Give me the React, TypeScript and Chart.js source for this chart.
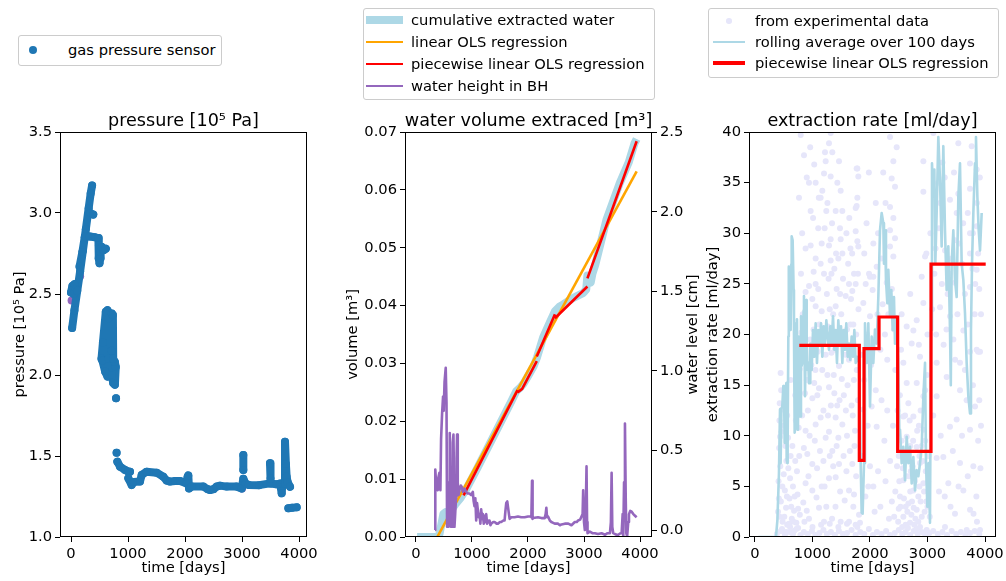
import React, { useEffect, useRef } from "react";
import { Chart, registerables } from "chart.js";
Chart.register(...registerables);

const FONT = "'DejaVu Sans', 'Liberation Sans', sans-serif";
const FS = 14.7;
const TFS = 17.6;

// ---------- tick labels ----------
const X_TICKS = ["0", "1000", "2000", "3000", "4000"];
const P1_YTICKS = ["1.0", "1.5", "2.0", "2.5", "3.0", "3.5"];
const P2_YTICKS = ["0.00", "0.01", "0.02", "0.03", "0.04", "0.05", "0.06", "0.07"];
const P2_Y2TICKS = ["0.0", "0.5", "1.0", "1.5", "2.0", "2.5"];
const P3_YTICKS = ["0", "5", "10", "15", "20", "25", "30", "35", "40"];

// ---------- titles / labels ----------
const TITLES = ["pressure [10\u2075 Pa]", "water volume extraced [m\u00b3]", "extraction rate [ml/day]"];
const YLABELS = ["pressure [10\u2075 Pa]", "volume [m\u00b3]", "extraction rate [ml/day]"];
const Y2LABEL = "water level [cm]";
const XLABEL = "time [days]";
const LEGEND1 = ["gas pressure sensor"];
const LEGEND2 = ["cumulative extracted water", "linear OLS regression", "piecewise linear OLS regression", "water height in BH"];
const LEGEND3 = ["from experimental data", "rolling average over 100 days", "piecewise linear OLS regression"];

// ---------- panel 1: gas pressure sensor [t, p] (null = gap) ----------
const pressurePts: ([number, number] | null)[] = [
  [0, 2.51], [25, 2.55], [60, 2.56], [85, 2.53], [45, 2.5], null,
  [20, 2.29], [60, 2.4], [110, 2.52], [160, 2.64], [210, 2.77], [260, 2.9], [310, 3.03], [345, 3.12], [370, 3.17], null,
  [150, 2.67], [200, 2.76], [240, 2.85], [275, 2.86], null,
  [335, 3.0], [390, 2.99], null,
  [250, 2.855], [330, 2.855], [420, 2.85], [480, 2.845], [490, 2.8], [485, 2.72], [500, 2.69], [515, 2.72], [520, 2.76], null,
  [540, 2.79], [570, 2.77], [610, 2.78], null,
  [640, 2.4], [610, 2.39], [560, 2.2], [535, 2.1], [550, 2.09], [600, 2.02], [640, 1.99], [660, 2.1], [660, 2.35], null,
  [715, 2.38], [712, 2.15], [718, 2.0], [740, 1.95], [770, 1.94], [785, 2.05], [770, 2.08], [740, 2.1], [735, 2.37], null,
  [790, 1.857], null,
  [800, 1.52], null,
  [813, 1.465], [860, 1.434], [947, 1.414], [1000, 1.405], [1035, 1.403], null,
  [1006, 1.362], [1064, 1.321], [1100, 1.34], [1210, 1.342], [1240, 1.383], [1327, 1.403], [1503, 1.397], [1620, 1.372],
  [1678, 1.348], [1737, 1.342], [1825, 1.346], [1912, 1.346], [2029, 1.331], [2045, 1.37], [2058, 1.38], [2070, 1.3],
  [2117, 1.311], [2322, 1.311], [2400, 1.295], [2439, 1.29], [2500, 1.295], [2556, 1.311], [2614, 1.317], [2731, 1.311],
  [2906, 1.311], [2994, 1.3], [3023, 1.36], [3060, 1.33], [3120, 1.321], [3300, 1.32], [3491, 1.331], [3520, 1.33],
  [3600, 1.325], [3667, 1.33], [3696, 1.27], [3710, 1.33], [3754, 1.33], [3754, 1.588], [3770, 1.45], [3783, 1.372],
  [3800, 1.34], [3842, 1.31], null,
  [3023, 1.506], [3023, 1.414], null,
  [3491, 1.455], [3500, 1.36], null,
  [3813, 1.177], [3880, 1.18], [3959, 1.183],
];
const otherPts: [number, number][] = [[10, 2.46], [160, 2.61], [3000, 1.3]];

// ---------- panel 2 ----------
const cumPts: [number, number][] = [
  [20, 0], [390, 0], [420, 0.0005], [460, 0.0025], [490, 0.004], [530, 0.0043], [590, 0.004], [640, 0.0048],
  [700, 0.0056], [800, 0.0068], [900, 0.0083], [1100, 0.012], [1300, 0.0158], [1500, 0.0196], [1700, 0.0234],
  [1790, 0.0252], [1860, 0.0258], [1920, 0.0265], [2000, 0.0278], [2100, 0.0295], [2160, 0.031], [2270, 0.0345],
  [2400, 0.0373], [2480, 0.039], [2560, 0.0398], [2630, 0.0402], [2800, 0.0413], [2990, 0.0422], [3040, 0.0428],
  [3060, 0.0452], [3090, 0.0445], [3120, 0.044], [3150, 0.0455], [3200, 0.047], [3400, 0.0548], [3640, 0.0612],
  [3800, 0.0648], [3900, 0.068], [3940, 0.0688],
];
const olsPts: [number, number][] = [[380, 0], [3940, 0.0632]];
const pwPts: ([number, number] | null)[] = [
  [850, 0.0072], [1814, 0.0254], null,
  [1814, 0.025], [1896, 0.0256], [2157, 0.0304], null,
  [2157, 0.0312], [2481, 0.0385], null,
  [2481, 0.0378], [3061, 0.0433], null,
  [3061, 0.0447], [3940, 0.0684],
];
const bhPts: [number, number][] = [
  [340, 0.0], [345, 0.38], [358, 0.3], [370, 0.26], [388, 0.25], [400, 0.33], [418, 0.36], [436, 0.25], [448, 0.57],
  [466, 0.73], [484, 0.84], [495, 0.75], [510, 0.93], [531, 1.02], [545, 0.8], [555, 0.02], [579, 0.02], [592, 0.3],
  [603, 0.61], [612, 0.35], [621, 0.02], [645, 0.02], [657, 0.55], [669, 0.6], [680, 0.3], [687, 0.02], [700, 0.1],
  [716, 0.21], [725, 0.45], [734, 0.6], [746, 0.3], [760, 0.22], [776, 0.25], [800, 0.28], [818, 0.27], [840, 0.24],
  [866, 0.26], [895, 0.24], [925, 0.23], [955, 0.23], [985, 0.22], [1015, 0.24], [1030, 0.18], [1045, 0.15],
  [1060, 0.2], [1075, 0.06], [1090, 0.17], [1104, 0.17], [1120, 0.08], [1134, 0.1], [1150, 0.04], [1164, 0.13],
  [1180, 0.07], [1194, 0.1], [1210, 0.04], [1224, 0.05], [1240, 0.09], [1254, 0.1], [1270, 0.04], [1284, 0.04],
  [1300, 0.06], [1313, 0.06], [1330, 0.03], [1343, 0.04], [1380, 0.05], [1403, 0.05], [1440, 0.04], [1463, 0.04],
  [1500, 0.05], [1522, 0.05], [1560, 0.06], [1582, 0.06], [1597, 0.12], [1612, 0.17], [1630, 0.18], [1642, 0.18],
  [1660, 0.1], [1672, 0.07], [1701, 0.08], [1760, 0.08], [1821, 0.085], [1880, 0.08], [1940, 0.08], [2000, 0.085],
  [2048, 0.085], [2060, 0.08], [2072, 0.31], [2082, 0.07], [2090, 0.075], [2179, 0.08], [2240, 0.075], [2298, 0.075],
  [2315, 0.1], [2328, 0.14], [2340, 0.08], [2358, 0.085], [2390, 0.06], [2418, 0.05], [2450, 0.045], [2478, 0.04],
  [2537, 0.04], [2570, 0.03], [2597, 0.035], [2657, 0.04], [2720, 0.04], [2776, 0.03], [2836, 0.05], [2870, 0.05],
  [2895, 0.06], [2930, 0.065], [2955, 0.085], [2975, 0.1], [2985, 0.25], [3000, 0.05], [3015, 0.0], [3030, 0.1],
  [3045, 0.4], [3055, 0.05], [3063, -0.02], [3104, -0.01], [3150, -0.02], [3194, -0.02], [3250, -0.025],
  [3313, -0.02], [3373, -0.03], [3420, -0.02], [3463, -0.02], [3480, 0.05], [3493, 0.36], [3505, 0.02],
  [3522, -0.02], [3580, -0.03], [3612, -0.03], [3650, -0.02], [3672, -0.02], [3690, 0.1], [3701, -0.04],
  [3715, 0.3], [3731, 0.67], [3745, 0.2], [3755, -0.02], [3770, -0.04], [3779, -0.04], [3790, 0.05], [3803, 0.1],
  [3825, 0.12], [3851, 0.115], [3880, 0.1], [3910, 0.09], [3940, 0.08],
];

// ---------- panel 3 ----------
const expPts: [number, number][] = [
  [380, 0.3], [450, 0.6], [520, 0.2], [600, 0.5], [660, 0.3], [720, 0.8], [790, 0.2], [850, 0.5], [920, 0.3], [990, 0.6],
  [1050, 0.2], [1120, 0.4], [1190, 0.7], [1250, 0.3], [1320, 0.5], [1390, 0.2], [1460, 0.6], [1530, 0.3], [1600, 0.4],
  [1680, 0.7], [1750, 0.2], [1830, 0.5], [1900, 0.3], [1980, 0.8], [2050, 0.2], [2120, 0.5], [2200, 0.3], [2280, 0.6],
  [2350, 0.2], [2430, 0.4], [2500, 0.7], [2560, 0.3], [2620, 0.5], [2700, 0.2], [2760, 0.6], [2830, 0.3], [2900, 0.5],
  [2960, 0.2], [3030, 0.4], [3100, 0.6], [3180, 0.3], [3260, 0.5], [3340, 0.2], [3420, 0.6], [3500, 0.3], [3580, 0.5],
  [3660, 0.2], [3740, 0.4], [3820, 0.6], [3900, 0.3],
  [400, 2.5], [410, 5.5], [420, 8.8], [425, 11.5], [430, 13.2], [440, 7.0], [450, 3.5], [460, 10.4], [470, 12.6],
  [480, 1.5], [500, 6.2], [520, 4.6], [530, 9.0], [540, 2.9], [560, 1.2], [580, 6.8], [600, 3.8], [620, 8.0], [640, 1.8],
  [660, 5.0], [680, 2.6], [700, 7.5], [720, 1.4], [740, 4.2], [760, 10.8], [780, 2.2], [446, 16.2], [500, 13.2], [560, 12.0],
  [415, 3.8], [435, 9.9], [455, 14.5], [475, 5.0], [490, 11.0], [510, 2.0], [525, 13.8], [545, 7.5], [555, 4.0],
  [575, 9.8], [590, 1.3], [610, 5.8], [630, 3.0], [650, 9.0], [670, 1.5], [690, 4.0], [710, 11.5], [730, 6.5],
  [750, 2.8], [770, 8.0], [700, 14.0], [620, 15.5], [430, 2.0], [470, 0.8], [540, 0.5], [610, 1.0], [680, 0.6], [750, 0.9],
  [795, 39.7], [852, 37.7], [765, 33.5], [800, 26.0], [830, 22.0], [860, 18.8], [880, 24.2], [900, 15.5], [820, 12.0],
  [850, 8.8], [880, 5.3], [900, 2.6], [840, 3.4], [870, 14.2], [910, 8.2], [780, 16.6], [810, 20.2],
  [939, 35.0], [968, 32.2], [968, 28.8], [997, 23.5], [1055, 35.0], [1055, 27.5], [1055, 25.0], [1055, 22.8], [1055, 11.1],
  [997, 13.7], [997, 7.2], [997, 4.6], [939, 1.8], [960, 19.5], [980, 17.0], [1020, 20.5], [1030, 15.2], [1040, 9.5],
  [1080, 6.8], [1090, 18.3], [1100, 30.5], [1084, 14.0], [1110, 33.5], [1113, 14.7], [1113, 2.9], [1020, 26.2],
  [940, 24.8], [950, 10.0], [930, 6.0], [1070, 3.9],
  [820, 30.0], [880, 28.5], [900, 35.5], [960, 38.5], [1010, 31.5], [1030, 36.8], [1100, 24.5], [1120, 21.0],
  [1160, 29.0], [1190, 12.5], [1230, 18.0], [1260, 33.0], [1280, 25.5], [1300, 8.0], [1340, 31.0], [1360, 22.0],
  [1370, 16.0], [1410, 28.0], [1430, 13.0], [1450, 9.8], [1480, 24.0], [1500, 19.5], [1520, 28.0], [1545, 14.0],
  [1570, 18.0], [1580, 12.5], [1610, 15.0], [1640, 31.5], [1670, 23.5], [1690, 28.0], [1710, 21.0], [1730, 9.0],
  [1770, 16.5], [1790, 26.0], [860, 1.5], [1000, 1.0], [1150, 1.2], [1300, 1.3], [1450, 1.0], [1600, 1.3], [1750, 1.2],
  [880, 10.5], [920, 12.5], [1050, 16.5], [1130, 8.5], [1210, 5.0], [1270, 12.0], [1360, 7.0], [1480, 4.5],
  [1590, 6.5], [1710, 3.0],
  [1142, 33.5], [1142, 27.0], [1142, 11.8], [1171, 34.2], [1200, 35.9], [1200, 26.0], [1200, 1.5], [1211, 30.5],
  [1217, 38.0], [1229, 37.1], [1229, 9.8], [1240, 32.2], [1287, 38.9], [1287, 28.8], [1287, 14.8], [1287, 10.4],
  [1287, 5.8], [1316, 39.9], [1316, 35.6], [1316, 29.4], [1316, 27.3], [1345, 38.0], [1345, 8.5], [1160, 22.3],
  [1180, 19.8], [1250, 24.0], [1270, 20.8], [1300, 22.5], [1330, 18.2], [1170, 16.5], [1260, 16.0], [1320, 13.0],
  [1190, 7.5], [1240, 3.0], [1340, 1.8], [1160, 5.0], [1330, 26.0],
  [1403, 32.2], [1403, 22.8], [1403, 11.8], [1403, 5.9], [1432, 35.0], [1461, 37.1], [1461, 16.9], [1461, 7.2],
  [1478, 30.5], [1490, 34.2], [1490, 29.4], [1490, 1.5], [1519, 32.2], [1519, 11.1], [1380, 26.5], [1420, 24.5],
  [1440, 20.0], [1450, 27.5], [1500, 22.0], [1530, 25.5], [1550, 19.0], [1380, 14.2], [1420, 9.0], [1540, 8.0],
  [1560, 3.6], [1400, 3.0], [1470, 13.5], [1510, 15.6], [1390, 18.5],
  [1577, 23.8], [1635, 25.0], [1635, 17.5], [1635, 4.6], [1635, 1.5], [1693, 24.3], [1693, 7.2], [1722, 26.0],
  [1722, 4.2], [1751, 30.2], [1751, 25.0], [1751, 32.5], [1780, 36.4], [1780, 33.5], [1780, 29.2], [1780, 1.0],
  [1809, 2.2], [1600, 20.5], [1620, 27.0], [1660, 21.0], [1680, 13.0], [1700, 18.5], [1720, 15.5], [1740, 10.5],
  [1760, 20.0], [1600, 10.0], [1650, 8.5], [1700, 12.0], [1590, 30.0], [1660, 28.5], [1760, 6.0], [1790, 13.5], [1800, 22.5],
  [1768, 36.4], [1797, 35.6], [1768, 32.7], [1797, 28.7], [1884, 23.1], [1925, 25.0], [1983, 26.0], [2000, 25.7],
  [2046, 24.4], [2000, 21.8], [1884, 12.6], [2029, 12.9], [2116, 10.9], [1971, 5.0], [1826, 1.4], [2000, 7.0],
  [2058, 5.0], [2058, 29.0], [2058, 25.7], [2116, 26.7], [1850, 18.0], [1900, 15.5], [1950, 20.0], [1960, 11.0],
  [2020, 17.0], [2080, 19.5], [2100, 14.5], [2130, 22.0], [1860, 8.0], [1920, 4.0], [2080, 2.5], [2140, 6.5],
  [1900, 28.0], [1940, 31.0], [2100, 33.0], [1980, 36.0], [2140, 30.0],
  [2290, 25.1], [2348, 39.5], [2464, 38.5], [2406, 37.1], [2377, 35.4], [2435, 34.6], [2348, 32.6], [2406, 31.5],
  [2348, 30.3], [2435, 29.5], [2348, 28.7], [2406, 27.7], [2200, 27.5], [2220, 23.0], [2260, 20.0], [2300, 17.5],
  [2320, 22.0], [2380, 24.5], [2420, 20.5], [2440, 16.5], [2200, 13.5], [2250, 9.5], [2300, 12.5], [2350, 7.5],
  [2400, 11.0], [2440, 4.5], [2180, 3.0], [2270, 5.5], [2330, 1.8], [2380, 3.5], [2420, 2.0], [2230, 36.0],
  [2270, 33.0], [2180, 18.5],
  [2522, 4.0], [2580, 5.6], [2580, 2.0], [2580, 11.9], [2580, 17.2], [2638, 20.8], [2638, 15.2], [2638, 9.9],
  [2667, 13.2], [2667, 3.3], [2696, 1.4], [2725, 19.1], [2754, 20.4], [2754, 11.9], [2754, 4.6], [2812, 21.4],
  [2812, 15.2], [2812, 8.9], [2812, 2.7], [2870, 17.8], [2870, 7.3], [2870, 1.0], [2899, 25.7], [2928, 23.1],
  [2928, 13.9], [2928, 10.6], [2928, 5.3], [2928, 34.1], [2928, 37.1], [2957, 27.7], [2986, 0.7], [2500, 8.0],
  [2520, 14.0], [2540, 18.5], [2560, 1.0], [2600, 7.5], [2620, 3.0], [2680, 6.0], [2700, 9.0], [2720, 2.2],
  [2740, 7.0], [2780, 5.5], [2790, 1.8], [2840, 4.0], [2850, 11.0], [2880, 3.5], [2900, 9.0], [2950, 2.5],
  [2970, 6.5], [3000, 3.0], [3020, 8.0], [2990, 16.0], [2480, 12.5], [2500, 2.8], [2620, 1.2], [2660, 0.9],
  [2700, 4.5], [2760, 2.9], [2810, 0.8], [2860, 5.0], [2960, 14.5], [3000, 20.0], [2980, 28.0],
  [2470, 7.0], [2490, 1.5], [2510, 5.5], [2530, 3.0], [2550, 9.5], [2570, 6.8], [2590, 3.8], [2610, 12.0],
  [2630, 6.0], [2650, 2.5], [2670, 8.5], [2690, 11.5], [2710, 6.5], [2730, 3.5], [2750, 9.5], [2770, 1.2],
  [2800, 6.2], [2820, 10.5], [2840, 1.5], [2860, 8.0], [2880, 12.5], [2900, 2.0], [2920, 7.5], [2940, 4.5],
  [2960, 9.5], [2980, 3.5], [3010, 5.5], [3040, 2.0], [2550, 22.0], [2700, 24.0], [2850, 19.0],
  [3101, 39.9], [3159, 17.2], [3159, 13.9], [3159, 7.8], [3217, 22.7], [3275, 7.9], [3304, 28.3], [3304, 1.0],
  [3333, 15.8], [3362, 5.3], [3391, 33.3], [3391, 21.8], [3391, 10.9], [3478, 29.3], [3478, 25.1], [3478, 2.3],
  [3507, 32.0], [3507, 11.6], [3536, 38.9], [3536, 33.9], [3565, 17.2], [3565, 14.5], [3565, 7.3], [3623, 20.4],
  [3623, 4.6], [3681, 0.7], [3739, 36.9], [3739, 34.4], [3739, 30.0], [3739, 28.0], [3739, 24.7], [3739, 18.3],
  [3739, 10.6], [3739, 2.7], [3768, 38.6], [3797, 7.0], [3826, 12.9], [3855, 36.3], [3855, 30.7], [3855, 26.4],
  [3855, 18.5], [3913, 0.7], [3080, 22.5], [3120, 26.0], [3200, 30.5], [3250, 25.0], [3280, 19.0], [3350, 24.0],
  [3420, 27.5], [3450, 19.5], [3520, 22.0], [3600, 27.0], [3650, 24.0], [3700, 21.0], [3780, 26.5], [3820, 22.0],
  [3880, 28.0], [3900, 24.5], [3100, 12.0], [3230, 10.0], [3300, 4.0], [3440, 8.5], [3600, 10.0], [3680, 13.5],
  [3880, 18.3], [3900, 13.5], [3880, 9.5], [3920, 6.8], [3180, 35.0], [3260, 37.0], [3620, 31.0], [3860, 33.0],
  [3910, 35.5], [3913, 18.3], [3800, 2.3], [3850, 4.0],
  [3050, 30.0], [3140, 28.5], [3220, 33.0], [3300, 35.5], [3380, 26.0], [3460, 36.0], [3550, 29.0], [3700, 32.0],
  [3790, 30.0], [3830, 25.0], [3930, 22.0], [3150, 20.0], [3330, 20.5], [3480, 17.5], [3650, 16.5], [3790, 15.0],
  [3930, 11.0], [3200, 4.5], [3400, 3.0], [3540, 5.0], [3700, 6.0], [3860, 1.5],
];
const rollPts: [number, number][] = [
  [58, 0], [150, 0], [250, 0], [365, 0], [390, 1.7], [417, 6.3], [435, 12.6], [446, 7.3], [460, 12.7], [475, 12.9],
  [493, 14.9], [504, 14.85], [516, 9.3], [522, 10.6], [533, 14.5], [545, 15.2], [551, 7.6], [562, 7.3], [568, 9.3],
  [580, 19.8], [585, 26.7], [591, 26.7], [603, 20.5], [620, 20.45], [630, 26.9], [638, 29.7], [655, 29.3], [661, 29.3],
  [672, 24.4], [678, 20.45], [690, 10.3], [696, 10.6], [713, 10.6], [719, 21.1], [730, 21.5], [742, 10.6], [748, 11.3],
  [765, 19.8], [783, 11.9], [800, 21.8], [810, 16.9], [823, 17.2], [846, 22.4], [852, 23.8], [870, 13.9], [893, 23.4],
  [899, 19.5], [916, 16.5], [928, 17.2], [939, 15.2], [957, 15.2], [962, 19.1], [986, 16.5], [1009, 20.45], [1032, 17.8],
  [1055, 21.1], [1078, 17.2], [1101, 20.45], [1125, 19.1], [1148, 21.1], [1171, 17.8], [1194, 20.8], [1217, 19.1],
  [1241, 21.4], [1264, 19.8], [1287, 18.5], [1310, 20.8], [1333, 19.1], [1357, 21.8], [1380, 18.5], [1403, 20.45],
  [1426, 17.2], [1449, 21.4], [1472, 19.1], [1496, 20.8], [1519, 17.2], [1542, 20.45], [1565, 18.5], [1588, 21.1],
  [1612, 17.8], [1635, 19.1], [1658, 17.5], [1681, 19.8], [1704, 17.8], [1728, 20.45], [1751, 17.2], [1774, 17.8],
  [1809, 17.2], [1838, 7.3], [1855, 2.4], [1872, 2.3], [1896, 7.3], [1913, 21.1], [1925, 17.2], [1942, 17.2],
  [1971, 21.1], [2000, 12.9], [2029, 19.8], [2058, 17.2], [2087, 20.5], [2116, 19.1], [2145, 23.7], [2174, 30.3],
  [2203, 32.0], [2232, 31.0], [2243, 27.0], [2261, 30.3], [2278, 25.4], [2301, 23.1], [2319, 26.4], [2348, 21.8],
  [2371, 24.4], [2394, 20.45], [2417, 23.7], [2435, 19.1], [2464, 21.8], [2493, 17.2], [2510, 10.6], [2522, 10.6],
  [2551, 7.3], [2580, 8.9], [2609, 5.6], [2638, 9.9], [2667, 7.3], [2696, 8.9], [2725, 5.3], [2754, 7.9], [2783, 4.6],
  [2812, 6.6], [2841, 6.0], [2870, 7.3], [2899, 8.9], [2928, 13.9], [2957, 17.2], [2974, 7.3], [2997, 3.0],
  [3020, 7.3], [3043, 1.4], [3061, 20.45], [3078, 36.9], [3101, 33.6], [3119, 36.3], [3136, 27.0], [3159, 32.0],
  [3188, 39.5], [3217, 35.3], [3246, 28.7], [3275, 38.6], [3304, 30.3], [3333, 24.4], [3362, 28.7], [3391, 20.45],
  [3405, 15.0], [3420, 27.0], [3449, 30.3], [3478, 25.4], [3507, 23.7], [3536, 33.6], [3565, 36.9], [3594, 27.0],
  [3623, 25.4], [3652, 22.1], [3681, 17.2], [3710, 13.9], [3739, 12.2], [3756, 20.45], [3774, 27.0], [3797, 32.0],
  [3826, 36.9], [3843, 39.5], [3867, 33.6], [3890, 30.3], [3913, 28.3], [3942, 32.0],
];
const stepPts: [number, number][] = [
  [771, 18.93], [1814, 7.57], [1896, 18.6], [2157, 21.73], [2481, 8.46], [3061, 26.96], [4012, 26.96],
];

// ---------- colours ----------
const C_BLUE = "#1f77b4";
const C_PURPLE = "#9467bd";
const C_LIGHTBLUE = "#add8e6";
const C_ORANGE = "#ffa500";
const C_RED = "#ff0000";
const C_LAVENDER = "#e6e6fa";

const toXY = (pts: ([number, number] | null)[]) =>
  pts.map((p) => (p === null ? { x: null as any, y: null as any } : { x: p[0], y: p[1] }));

const font = { family: FONT, size: FS };

function xAxis(min: number, max: number) {
  return {
    type: "linear",
    position: "bottom",
    min,
    max,
    afterBuildTicks: (s: any) => {
      s.ticks = X_TICKS.map((l) => ({ value: Number(l) }));
    },
    afterFit: (s: any) => {
      s.height = 44;
      s.paddingLeft = 0;
      s.paddingRight = 0;
    },
    ticks: {
      autoSkip: false,
      maxRotation: 0,
      minRotation: 0,
      padding: 3,
      color: "#000",
      font,
      callback: (_v: any, i: number) => X_TICKS[i],
    },
    grid: { display: true, drawOnChartArea: false, drawTicks: true, tickLength: 5, color: "#000", lineWidth: 1 },
    border: { display: false },
    title: { display: true, text: XLABEL, color: "#000", font, padding: { top: 0, bottom: 4.2 } },
  };
}

function yAxis(min: number, max: number, labels: string[], width: number, position: string, title: string | null, titlePad: number) {
  return {
    type: "linear",
    position,
    min,
    max,
    afterBuildTicks: (s: any) => {
      s.ticks = labels.map((l) => ({ value: Number(l) }));
    },
    afterFit: (s: any) => {
      s.width = width;
      s.paddingTop = 0;
      s.paddingBottom = 0;
    },
    ticks: { autoSkip: false, padding: 3, color: "#000", font, callback: (_v: any, i: number) => labels[i] },
    grid: { display: true, drawOnChartArea: false, drawTicks: true, tickLength: 5, color: "#000", lineWidth: 1 },
    border: { display: false },
    title: title
      ? { display: true, text: title, color: "#000", font, padding: { top: titlePad, bottom: 0 } }
      : { display: false },
  };
}

function decorPlugin(title: string, rightTitle?: { text: string; x: number }) {
  return {
    id: "decor",
    afterDraw(chart: any) {
      const { ctx, chartArea: a } = chart;
      ctx.save();
      ctx.strokeStyle = "#000";
      ctx.lineWidth = 1;
      ctx.strokeRect(Math.round(a.left) + 0.5, Math.round(a.top) + 0.5, Math.round(a.right - a.left) - 1, Math.round(a.bottom - a.top) - 1);
      ctx.fillStyle = "#000";
      ctx.font = `${TFS}px ${FONT}`;
      ctx.textAlign = "center";
      ctx.textBaseline = "middle";
      ctx.fillText(title, (a.left + a.right) / 2, a.top - 11);
      if (rightTitle) {
        ctx.font = `${FS}px ${FONT}`;
        ctx.translate(rightTitle.x, (a.top + a.bottom) / 2);
        ctx.rotate(-Math.PI / 2);
        ctx.fillText(rightTitle.text, 0, 0);
      }
      ctx.restore();
    },
  };
}

const baseOptions = (layoutPad: any, scales: any) => ({
  responsive: false,
  animation: false as const,
  events: [] as any[],
  layout: { padding: layoutPad, autoPadding: false },
  plugins: { legend: { display: false }, title: { display: false }, tooltip: { enabled: false } },
  scales,
});

function cfg1(): any {
  return {
    type: "scatter",
    data: {
      datasets: [
        {
          data: toXY(pressurePts),
          showLine: true,
          spanGaps: false,
          borderColor: C_BLUE,
          borderWidth: 8,
          borderCapStyle: "round",
          borderJoinStyle: "round",
          pointRadius: 4,
          pointBackgroundColor: C_BLUE,
          pointBorderWidth: 0,
          order: 0,
        },
        {
          data: toXY(otherPts),
          showLine: false,
          pointRadius: 4,
          pointBackgroundColor: C_PURPLE,
          pointBorderWidth: 0,
          order: 1,
        },
      ],
    },
    options: baseOptions(
      { top: 32, right: 23, left: 0, bottom: 0 },
      {
        x: xAxis(-193, 4140),
        y: yAxis(1.0, 3.5, P1_YTICKS, 60, "left", YLABELS[0], 11.2),
      }
    ),
    plugins: [decorPlugin(TITLES[0])],
  };
}

function cfg2(): any {
  return {
    type: "scatter",
    data: {
      datasets: [
        {
          data: toXY(bhPts),
          yAxisID: "y2",
          showLine: true,
          borderColor: C_PURPLE,
          borderWidth: 2.6,
          borderJoinStyle: "round",
          pointRadius: 0,
          order: 0,
        },
        {
          data: toXY(pwPts),
          yAxisID: "y",
          showLine: true,
          spanGaps: false,
          borderColor: C_RED,
          borderWidth: 2.6,
          pointRadius: 0,
          order: 1,
        },
        {
          data: toXY(olsPts),
          yAxisID: "y",
          showLine: true,
          borderColor: C_ORANGE,
          borderWidth: 2.6,
          pointRadius: 0,
          order: 2,
        },
        {
          data: toXY(cumPts),
          yAxisID: "y",
          showLine: true,
          borderColor: C_LIGHTBLUE,
          borderWidth: 8,
          borderJoinStyle: "round",
          pointRadius: 0,
          order: 3,
        },
      ],
    },
    options: baseOptions(
      { top: 32, right: 0, left: 0, bottom: 0 },
      {
        x: xAxis(-196, 4214),
        y: yAxis(0, 0.07, P2_YTICKS, 75, "left", YLABELS[1], 14.2),
        y2: yAxis(-0.044, 2.503, P2_Y2TICKS, 50, "right", null, 0),
      }
    ),
    plugins: [decorPlugin(TITLES[1], { text: Y2LABEL, x: 363 })],
  };
}

function cfg3(): any {
  return {
    type: "scatter",
    data: {
      datasets: [
        {
          data: toXY(stepPts),
          showLine: true,
          stepped: true,
          borderColor: C_RED,
          borderWidth: 3.2,
          pointRadius: 0,
          order: 0,
        },
        {
          data: toXY(rollPts),
          showLine: true,
          borderColor: C_LIGHTBLUE,
          borderWidth: 2.6,
          borderJoinStyle: "round",
          pointRadius: 0,
          order: 1,
        },
        {
          data: toXY(expPts),
          showLine: false,
          pointRadius: 3,
          pointBackgroundColor: C_LAVENDER,
          pointBorderWidth: 0,
          order: 2,
        },
      ],
    },
    options: baseOptions(
      { top: 32, right: 10, left: 0, bottom: 0 },
      {
        x: xAxis(-104, 4191),
        y: yAxis(0, 40, P3_YTICKS, 59, "left", YLABELS[2], 14.2),
      }
    ),
    plugins: [decorPlugin(TITLES[2])],
  };
}

type Handle = { kind: "dot" | "line"; color: string; size: number };

function Legend(props: {
  left: number; top: number; width: number; height: number;
  rows: number[]; labels: string[]; handles: Handle[];
  hx0: number; hx1: number; textX: number;
}) {
  const { left, top, width, height, rows, labels, handles, hx0, hx1, textX } = props;
  return (
    <>
      <div style={{ position: "absolute", left, top, width: width - 2, height: height - 2, border: "1px solid #cccccc", borderRadius: 3, background: "rgba(255,255,255,0.8)", zIndex: 2 }} />
      {labels.map((lab, i) => {
        const h = handles[i];
        const cy = rows[i];
        const hEl =
          h.kind === "dot" ? (
            <div key={"h" + i} style={{ position: "absolute", left: (hx0 + hx1) / 2 - h.size, top: cy - h.size, width: h.size * 2, height: h.size * 2, borderRadius: "50%", background: h.color, zIndex: 3 }} />
          ) : (
            <div key={"h" + i} style={{ position: "absolute", left: hx0, top: cy - h.size / 2, width: hx1 - hx0, height: h.size, background: h.color, zIndex: 3 }} />
          );
        return (
          <React.Fragment key={i}>
            {hEl}
            <div style={{ position: "absolute", left: textX, top: cy - 10, height: 20, lineHeight: "20px", fontSize: FS, fontFamily: FONT, color: "#000", whiteSpace: "nowrap", zIndex: 3 }}>{lab}</div>
          </React.Fragment>
        );
      })}
    </>
  );
}

export default function App() {
  const r1 = useRef<HTMLCanvasElement>(null);
  const r2 = useRef<HTMLCanvasElement>(null);
  const r3 = useRef<HTMLCanvasElement>(null);

  useEffect(() => {
    const charts = [new Chart(r1.current!, cfg1()), new Chart(r2.current!, cfg2()), new Chart(r3.current!, cfg3())];
    return () => charts.forEach((c) => c.destroy());
  }, []);

  return (
    <div style={{ position: "absolute", left: 0, top: 0, width: 1006, height: 581, background: "#fff", overflow: "hidden", fontFamily: FONT }}>
      <canvas ref={r1} width={330} height={481} style={{ position: "absolute", left: 0, top: 100, width: 330, height: 481 }} />
      <canvas ref={r2} width={372} height={481} style={{ position: "absolute", left: 330, top: 100, width: 372, height: 481 }} />
      <canvas ref={r3} width={316} height={481} style={{ position: "absolute", left: 690, top: 100, width: 316, height: 481 }} />
      <Legend left={18} top={35} width={204} height={31} rows={[50]} labels={LEGEND1}
        handles={[{ kind: "dot", color: C_BLUE, size: 4 }]} hx0={19} hx1={47} textX={68} />
      <Legend left={363} top={8} width={292} height={92} rows={[20, 42, 64, 86]} labels={LEGEND2}
        handles={[
          { kind: "line", color: C_LIGHTBLUE, size: 8 },
          { kind: "line", color: C_ORANGE, size: 2.6 },
          { kind: "line", color: C_RED, size: 2.6 },
          { kind: "line", color: C_PURPLE, size: 2.6 },
        ]} hx0={366} hx1={403} textX={411} />
      <Legend left={708} top={8} width={291} height={70} rows={[21, 42, 63]} labels={LEGEND3}
        handles={[
          { kind: "dot", color: C_LAVENDER, size: 2.8 },
          { kind: "line", color: C_LIGHTBLUE, size: 2.6 },
          { kind: "line", color: C_RED, size: 3.2 },
        ]} hx0={713} hx1={745} textX={755} />
    </div>
  );
}
